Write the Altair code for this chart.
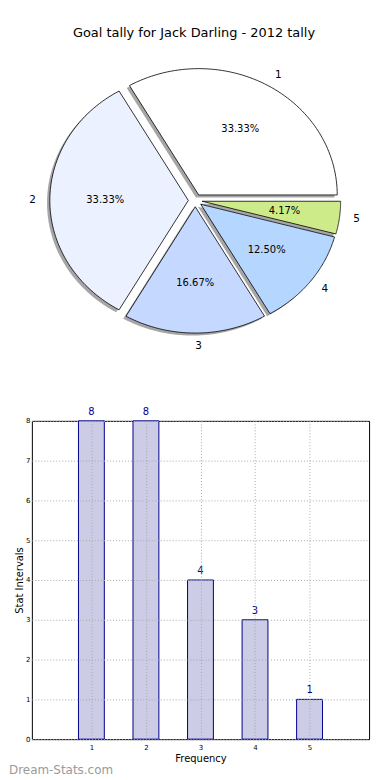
import altair as alt
import pandas as pd

# ---------------- data ----------------
categories = [1, 2, 3, 4, 5]
counts = [8, 8, 4, 3, 1]
slice_colors = ["#FFFFFF", "#EBF1FE", "#C5D8FF", "#B5D6FF", "#CEEB8A"]
x_ticks = [1, 2, 3, 4, 5]
y_ticks = [0, 1, 2, 3, 4, 5, 6, 7, 8]
title_text = "Goal tally for Jack Darling - 2012 tally"
x_title = "Frequency"
y_title = "Stat Intervals"
watermark = "Dream-Stats.com"

df = pd.DataFrame({"cat": categories, "value": counts})

FONT = "DejaVu Sans"
LX = 23  # left extent of the bar chart's y axis (cells share the same x origin)
PIE_W, PIE_H = 374 - LX, 396
CX, CY, RX, RY = 187.25 - LX, 190.4, 139.25, 127.0
EXPLODE = 0.05
N = 72
SHX, SHY = -2.8, 2.5

# ---------------- pie (matplotlib style, exploded, shadowed) ----------------
base = (
    alt.Chart(df)
    .transform_joinaggregate(total="sum(value)")
    .transform_window(cum="sum(value)", sort=[alt.SortField("cat")], frame=[None, 0])
    .transform_calculate(a0="2*PI*(datum.cum - datum.value)/datum.total")
    .transform_calculate(a1="2*PI*datum.cum/datum.total")
    .transform_calculate(mid="(datum.a0 + datum.a1)/2")
    .transform_calculate(ox=f"{CX} + {EXPLODE * RX}*cos(datum.mid)")
    .transform_calculate(oy=f"{CY} - {EXPLODE * RY}*sin(datum.mid)")
)

poly = (
    base.transform_calculate(steps=f"sequence(0, {N + 2})")
    .transform_flatten(["steps"], as_=["step"])
    .transform_calculate(ang=f"datum.a0 + (datum.a1 - datum.a0)*(datum.step - 1)/{N}")
    .transform_calculate(px=f"datum.step == 0 ? datum.ox : datum.ox + {RX}*cos(datum.ang)")
    .transform_calculate(py=f"datum.step == 0 ? datum.oy : datum.oy - {RY}*sin(datum.ang)")
    .transform_calculate(sx=f"datum.px + ({SHX})")
    .transform_calculate(sy=f"datum.py + ({SHY})")
)

shadow = poly.mark_line(interpolate="linear-closed").encode(
    x=alt.X("sx:Q", scale=None, axis=None),
    y=alt.Y("sy:Q", scale=None, axis=None),
    order=alt.Order("step:Q"),
    detail="cat:N",
    fill=alt.value("#4d4d4d"),
    fillOpacity=alt.value(0.5),
    stroke=alt.value("transparent"),
)

wedges = poly.mark_line(interpolate="linear-closed", stroke="black", strokeWidth=0.8).encode(
    x=alt.X("px:Q", scale=None, axis=None),
    y=alt.Y("py:Q", scale=None, axis=None),
    order=alt.Order("step:Q"),
    detail="cat:N",
    fill=alt.Fill("cat:N", scale=alt.Scale(domain=categories, range=slice_colors), legend=None),
)

pct = base.transform_calculate(
    tx=f"datum.ox + 0.6*{RX}*cos(datum.mid)",
    ty=f"datum.oy - 0.6*{RY}*sin(datum.mid)",
    lbl="format(datum.value/datum.total*100, '.2f') + '%'",
).mark_text(font=FONT, fontSize=10, color="black", baseline="middle", align="center").encode(
    x=alt.X("tx:Q", scale=None, axis=None),
    y=alt.Y("ty:Q", scale=None, axis=None),
    text="lbl:N",
)

lab = base.transform_calculate(
    tx=f"datum.ox + 1.1*{RX}*cos(datum.mid)",
    ty=f"datum.oy - 1.1*{RY}*sin(datum.mid)",
    side="cos(datum.mid) > -1e-6 ? 'r' : 'l'",
)
lab_r = lab.transform_filter("datum.side == 'r'").mark_text(
    font=FONT, fontSize=10.5, color="black", baseline="middle", align="left"
).encode(x=alt.X("tx:Q", scale=None, axis=None), y=alt.Y("ty:Q", scale=None, axis=None), text="cat:N")
lab_l = lab.transform_filter("datum.side == 'l'").mark_text(
    font=FONT, fontSize=10.5, color="black", baseline="middle", align="right"
).encode(x=alt.X("tx:Q", scale=None, axis=None), y=alt.Y("ty:Q", scale=None, axis=None), text="cat:N")

title = alt.Chart(pd.DataFrame({"t": [title_text]})).mark_text(
    font=FONT, fontSize=13, color="black", baseline="middle", align="center"
).encode(x=alt.value(186 - LX), y=alt.value(22), text="t:N")

pie = alt.layer(shadow, wedges, pct, lab_r, lab_l, title).properties(
    width=PIE_W, height=PIE_H, view=alt.ViewBackground(stroke="transparent")
)

# ---------------- bar chart ----------------
BAR_W, BAR_H = 362 - LX, 320
xscale = alt.Scale(domain=[0, 6], nice=False, zero=False)
yscale = alt.Scale(domain=[0, 8], nice=False)
grid_kw = dict(grid=True, gridDash=[1, 2], gridColor="#a8a8a8", gridWidth=1, domain=False,
               tickSize=0, labelFont=FONT, titleFont=FONT, labelColor="black", titleColor="black",
               labelFontSize=7, titleFontSize=10, titleFontWeight="normal", zindex=1,
               labelOverlap=False, format="d")

bar_base = alt.Chart(df)
bars = bar_base.mark_bar(size=26, fill="#CCCCE6", stroke="#00008B", strokeWidth=1).encode(
    x=alt.X("cat:Q", scale=xscale,
            axis=alt.Axis(values=x_ticks, title=x_title, labelPadding=4, titlePadding=3, **grid_kw)),
    y=alt.Y("value:Q", scale=yscale,
            axis=alt.Axis(values=y_ticks, tickCount=9, title=y_title, labelPadding=2, titlePadding=1, **grid_kw)),
)
vals = bar_base.mark_text(font=FONT, fontSize=10, color="#00008B", baseline="bottom", dy=-4).encode(
    x=alt.X("cat:Q", scale=xscale), y=alt.Y("value:Q", scale=yscale), text="value:Q"
)
wm = alt.Chart(pd.DataFrame({"t": [watermark]})).mark_text(
    font=FONT, fontSize=12, color="#9a9a9a", baseline="middle", align="left"
).encode(x=alt.value(-LX), y=alt.value(BAR_H + 31), text="t:N")

bar = alt.layer(bars, vals, wm).properties(
    width=BAR_W, height=BAR_H, view=alt.ViewBackground(stroke="black", strokeWidth=1)
)

chart = alt.vconcat(pie, bar, spacing=0).properties(padding=0).configure_view(stroke="transparent")

chart.save("out.html", embed_options={"renderer": "svg", "actions": False})
